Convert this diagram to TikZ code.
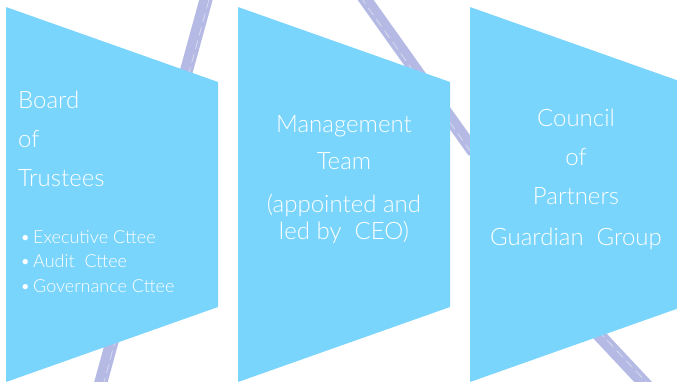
\documentclass[tikz,border=0pt]{standalone}
\usepackage{fontspec}
\setmainfont{Lato}[UprightFont=* Light]
\definecolor{panelblue}{RGB}{122,213,252}
\definecolor{brushlilac}{RGB}{180,186,228}
\begin{document}
\begin{tikzpicture}
		[x=1pt, y=-1pt,
		every node/.style={text=white, inner sep=0pt},
		panel/.style={fill=panelblue},
		brush/.style={draw=brushlilac, line width=13pt},
		streak/.style={draw=white, opacity=0.45, line width=0.8pt, dash pattern=on 9pt off 5pt},
		title/.style={font=\fontsize{24}{28}\selectfont},
		item/.style={font=\fontsize{18}{21}\selectfont, anchor=base west},
		]

		\useasboundingbox (0,0) rectangle (677,381);

		% lilac strokes behind the panels
		\draw[brush] (96,400) -- (210,-15);
		\draw[streak] (99,400) -- (213,-15);
		\draw[brush] (355,-15) -- (474,152);
		\draw[streak] (352,-15) -- (471,152);
		\draw[brush] (585,320) -- (660,400);
		\draw[streak] (588,320) -- (663,400);

		% the three panels
		\foreach \px in {6,238,470}
			\fill[panel] (\px,7) -- ++(212,75) -- ++(0,225) -- ++(-212,75) -- cycle;

		% Board of Trustees
		\foreach \txt [count=\i] in {Board,of,Trustees}
			\node[title, anchor=base west] (board\i) at (18,69+39*\i) {\txt};
		\foreach \txt [count=\i] in {Executive Cttee,Audit\ \ Cttee,Governance Cttee}
			{\node[item] (bull\i) at (20,218.5+24.5*\i) {\textbullet};
			\node[item] (comm\i) at (33,218.5+24.5*\i) {\txt};}

		% Management Team
		\node[title, anchor=base] (mgmt1) at (344,132) {Management};
		\node[title, anchor=base] (mgmt2) at (344,169) {Team};
		\node[title, anchor=base] (mgmt3) at (344,212) {(appointed and};
		\node[title, anchor=base] (mgmt4) at (344,239) {led by\ \ CEO)};

		% Council of Partners
		\foreach \txt [count=\i] in {Council,of,Partners}
			\node[title, anchor=base] (coun\i) at (576,87+39*\i) {\txt};
		\node[title, anchor=base] (coun4) at (576,245) {Guardian\ \ Group};
	\end{tikzpicture}
\end{document}
